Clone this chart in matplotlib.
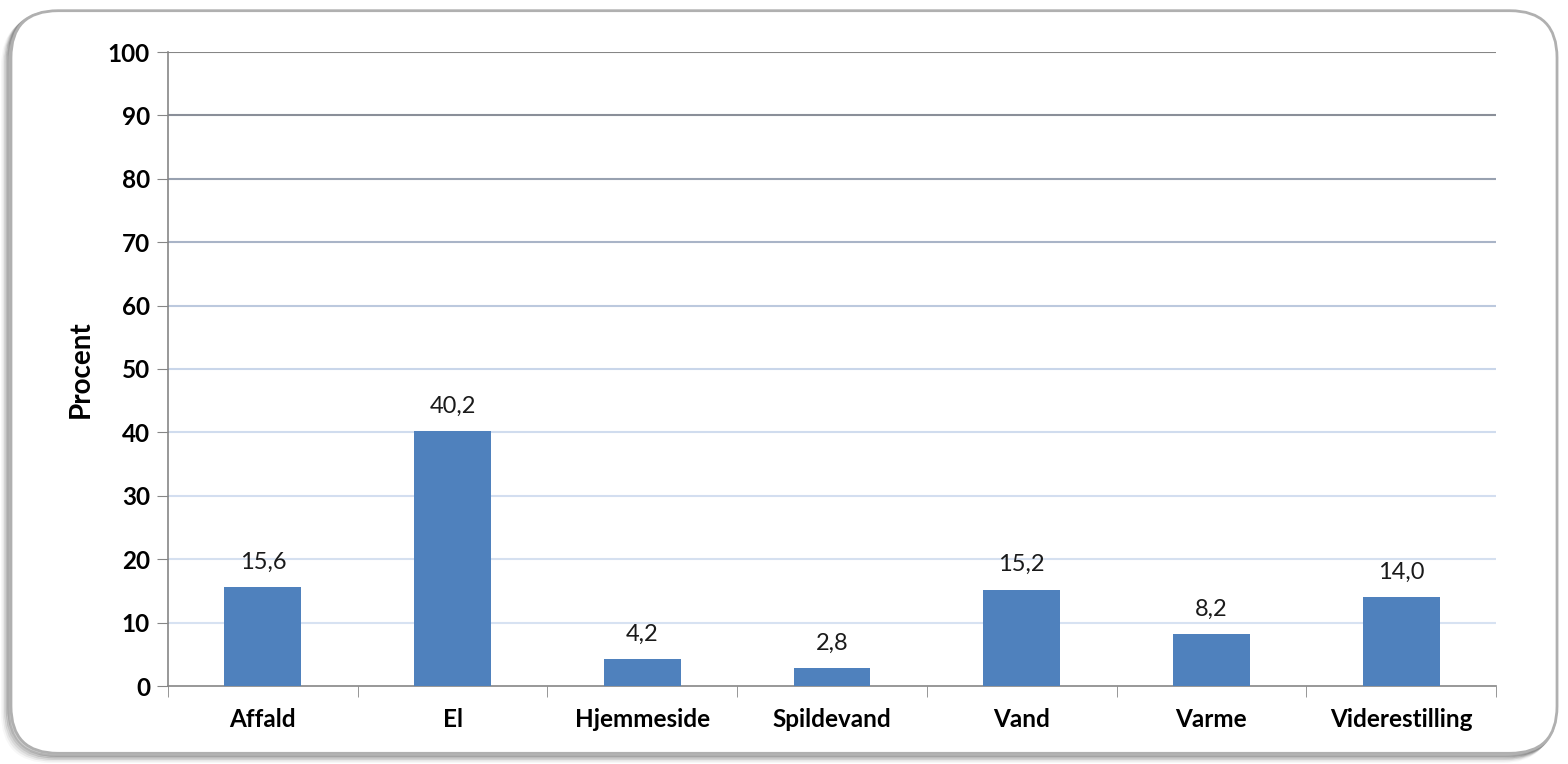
import matplotlib.pyplot as plt
from matplotlib.patches import FancyBboxPatch
import numpy as np

categories = ['Affald', 'El', 'Hjemmeside', 'Spildevand', 'Vand', 'Varme', 'Viderestilling']
values = [15.6, 40.2, 4.2, 2.8, 15.2, 8.2, 14.0]
yticks = [0, 10, 20, 30, 40, 50, 60, 70, 80, 90, 100]

plt.rcParams['font.family'] = ['Lato', 'DejaVu Sans']

fig = plt.figure(figsize=(15.68, 7.64), dpi=100)

# rounded frame with soft shadow (left and bottom)
for i, a in enumerate([0.18, 0.14, 0.10, 0.06, 0.03]):
    d = 0.002 * (i + 1)
    fig.patches.append(FancyBboxPatch((0.007 - d * 0.5, 0.014 - d), 0.986, 0.972,
                                      boxstyle='round,pad=0,rounding_size=0.03',
                                      transform=fig.transFigure, facecolor='none',
                                      edgecolor='black', alpha=a, lw=3, zorder=-5,
                                      mutation_aspect=1568 / 764))
fig.patches.append(FancyBboxPatch((0.007, 0.014), 0.986, 0.972,
                                  boxstyle='round,pad=0,rounding_size=0.03',
                                  transform=fig.transFigure, facecolor='white',
                                  edgecolor='#b0b0b0', lw=2, zorder=-4,
                                  mutation_aspect=1568 / 764))

ax = fig.add_axes([168 / 1568, 1 - 686 / 764, (1496 - 168) / 1568, (686 - 52) / 764])
ax.set_facecolor('none')
ax.set_zorder(2)

x = np.arange(len(categories))
ax.bar(x, values, width=0.405, color='#4f81bd', zorder=3)

for xi, v in zip(x, values):
    ax.text(xi, v + 2.3, f'{v:.1f}'.replace('.', ','), ha='center', va='bottom',
            fontsize=17, color='#1a1a1a')

grid_colors = ['#868686', '#8a8f99', '#98a1b0', '#a9b4c7', '#bcc9de', '#c9d6ea',
               '#d0dcee', '#d3def0', '#d5e0f0', '#d7e2f2']
for y, c in zip(yticks[1:][::-1], grid_colors):
    ax.axhline(y, color=c, lw=1.5, zorder=1)

ax.set_xlim(-0.5, len(categories) - 0.5)
ax.set_ylim(0, 100)
ax.set_yticks(yticks)
ax.set_xticks(x)
ax.set_xticklabels(categories, fontsize=17.5, fontweight='bold')
ax.set_xticks(np.arange(-0.5, len(categories)), minor=True)
ax.tick_params(axis='x', which='major', length=0, pad=16)
ax.tick_params(axis='x', which='minor', length=8, color='#868686', direction='out')
ax.tick_params(axis='y', length=8, color='#868686', labelsize=17.5, pad=5)
for lab in ax.get_yticklabels():
    lab.set_fontweight('bold')

for s in ['top', 'right']:
    ax.spines[s].set_visible(False)
for s in ['left', 'bottom']:
    ax.spines[s].set_color('#868686')
    ax.spines[s].set_linewidth(1.2)

ax.set_ylabel('Procent', fontsize=20, fontweight='bold', labelpad=10)

fig.savefig('out.png', dpi=100)
